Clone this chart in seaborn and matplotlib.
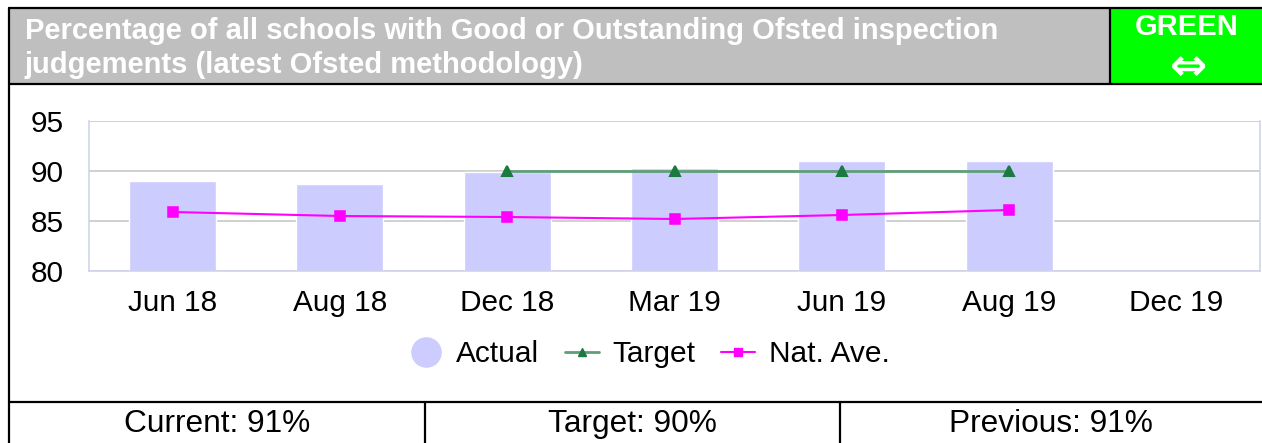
#!/usr/bin/env python3
"""
plot.py - Ofsted Good/Outstanding schools scorecard chart.
"""
import matplotlib
matplotlib.use('Agg')

import matplotlib.pyplot as plt
import numpy as np
import pandas as pd
import seaborn as sns
from matplotlib.lines import Line2D
from matplotlib.patches import Rectangle

# -- Data -- #

MONTHS = ['Jun 18', 'Aug 18', 'Dec 18', 'Mar 19', 'Jun 19', 'Aug 19', 'Dec 19']
ACTUAL = [89.0, 88.7, 89.9, 90.3, 91.0, 91.0, np.nan]
TARGET = [np.nan, np.nan, 90.0, 90.0, 90.0, 90.0, np.nan]
NAT_AVE = [85.9, 85.5, 85.4, 85.2, 85.6, 86.1, np.nan]
Y_TICKS = [80, 85, 90, 95]

TITLE_LINES = [
    'Percentage of all schools with Good or Outstanding Ofsted inspection',
    'judgements (latest Ofsted methodology)',
]
RAG_STATUS = 'GREEN'
RAG_ARROW = '\u21d4'
SUMMARY = ['Current: 91%', 'Target: 90%', 'Previous: 91%']
LEGEND_LABELS = ['Actual', 'Target', 'Nat. Ave.']

# -- Styles -- #

W, H = 1262, 443
BAR_COLOR = '#CCCCFF'
TARGET_LINE = '#5E9E7A'
TARGET_MARK = '#1B7A40'
NAT_COLOR = '#FF00FF'
AXIS_COLOR = '#D0D4EC'
GRID_COLOR = '#C8C8C8'


def fx(px):
    return px / W


def fy(py):
    return 1 - py / H


def hline(fig, y, x0, x1, lw=1.6):
    fig.add_artist(Line2D([fx(x0), fx(x1)], [fy(y), fy(y)],
                          transform=fig.transFigure, color='black', lw=lw))


def vline(fig, x, y0, y1, lw=1.6):
    fig.add_artist(Line2D([fx(x), fx(x)], [fy(y0), fy(y1)],
                          transform=fig.transFigure, color='black', lw=lw))


def main():
    sns.set_theme(style='white')
    plt.rcParams['font.family'] = ['Liberation Sans', 'DejaVu Sans']

    df = pd.DataFrame({
        'month': MONTHS,
        'actual': ACTUAL,
        'target': TARGET,
        'nat_ave': NAT_AVE,
    })

    fig = plt.figure(figsize=(W / 100, H / 100), dpi=100)

    # Header band and RAG box.
    fig.add_artist(Rectangle((fx(9), fy(84)), fx(1110) - fx(9), fy(9) - fy(84),
                             transform=fig.transFigure, facecolor='#BFBFBF',
                             edgecolor='none'))
    fig.add_artist(Rectangle((fx(1110), fy(84)), fx(1262) - fx(1110), fy(9) - fy(84),
                             transform=fig.transFigure, facecolor='#00FF00',
                             edgecolor='none'))
    hline(fig, 8, 9, 1262)
    hline(fig, 84, 9, 1262)
    vline(fig, 9, 8, 443)
    vline(fig, 1110, 8, 84)
    hline(fig, 402, 9, 1262)
    vline(fig, 425, 402, 443)
    vline(fig, 840, 402, 443)

    fig.text(fx(25), fy(31), TITLE_LINES[0], color='white', fontsize=21,
             fontweight='bold', ha='left', va='center')
    fig.text(fx(25), fy(65), TITLE_LINES[1], color='white', fontsize=21,
             fontweight='bold', ha='left', va='center')
    fig.text(fx(1187), fy(27), RAG_STATUS, color='white', fontsize=21,
             fontweight='bold', ha='center', va='center')
    fig.text(fx(1188), fy(68), RAG_ARROW, color='white', fontsize=32,
             fontweight='bold', ha='center', va='center',
             family=['DejaVu Sans'])

    # Chart.
    ax = fig.add_axes([fx(89), fy(271), fx(1260) - fx(89), fy(121) - fy(271)])

    sns.barplot(data=df, x='month', y='actual', order=MONTHS, color=BAR_COLOR,
                saturation=1, width=0.52, errorbar=None, ax=ax)
    sns.pointplot(data=df, x='month', y='target', order=MONTHS,
                  color=TARGET_LINE, markers='^', errorbar=None,
                  linewidth=2.0, markersize=7, ax=ax)
    line = ax.lines[-1]
    line.set_markerfacecolor(TARGET_MARK)
    line.set_markeredgecolor(TARGET_MARK)
    sns.pointplot(data=df, x='month', y='nat_ave', order=MONTHS,
                  color=NAT_COLOR, markers='s', errorbar=None,
                  linewidth=1.5, markersize=7, ax=ax)

    ax.set_xlim(-0.5, len(MONTHS) - 0.5)
    ax.set_ylim(80, 95)
    ax.set_yticks(Y_TICKS)
    ax.set_xlabel('')
    ax.set_ylabel('')
    ax.set_axisbelow(True)
    ax.yaxis.grid(True, color=GRID_COLOR, lw=1.2)
    ax.xaxis.grid(False)

    ax.set_xticks(np.arange(len(MONTHS) + 1) - 0.5, minor=True)
    ax.tick_params(axis='x', which='major', length=0, pad=13,
                   labelsize=21.4, labelcolor='black')
    ax.tick_params(axis='x', which='minor', length=11, width=1.2,
                   color=AXIS_COLOR)
    ax.tick_params(axis='y', length=0, pad=18, labelsize=21.4,
                   labelcolor='black')

    ax.spines['top'].set_visible(False)
    for side in ['left', 'right', 'bottom']:
        ax.spines[side].set_color(AXIS_COLOR)
        ax.spines[side].set_linewidth(1.2)

    # Legend.
    handles = [
        Line2D([], [], ls='none', marker='o', markersize=21,
               markerfacecolor=BAR_COLOR, markeredgecolor=BAR_COLOR),
        Line2D([], [], color=TARGET_LINE, lw=2, marker='^', markersize=6,
               markerfacecolor=TARGET_MARK, markeredgecolor=TARGET_MARK),
        Line2D([], [], color=NAT_COLOR, lw=1.5, marker='s', markersize=6),
    ]
    fig.legend(handles, LEGEND_LABELS, loc='center',
               bbox_to_anchor=(fx(649), fy(354)), ncol=3, frameon=False,
               fontsize=21.5, handlelength=1.15, handletextpad=0.45,
               columnspacing=0.85, labelcolor='black')

    # Summary row.
    centers = [217, 632, 1051]
    for cx, label in zip(centers, SUMMARY):
        fig.text(fx(cx), fy(424), label, color='black', fontsize=22.8,
                 ha='center', va='center')

    fig.savefig('out.png', dpi=100)


if __name__ == '__main__':
    main()
